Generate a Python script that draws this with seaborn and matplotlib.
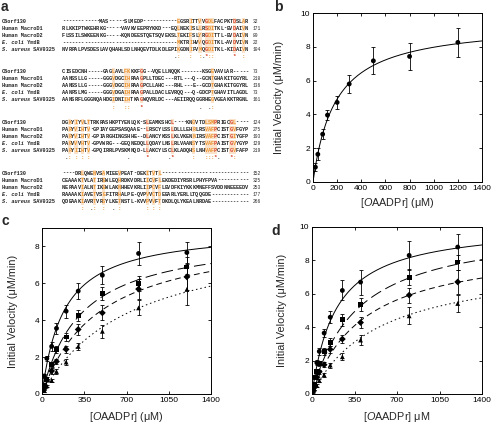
import numpy as np
import pandas as pd
import matplotlib
matplotlib.use("Agg")
import matplotlib.pyplot as plt
from matplotlib.patches import Rectangle
import seaborn as sns

# ---------------- panel a: sequence alignment ----------------
name_italic = ["", "", "", "E. coli", "S. aureus"]
name_rest = ["C6orf130", "Human MacroD1", "Human MacroD2", " YmdB", " SAV0325"]

block1 = [
    "------------MAS-----SLMEDP-----------EGSRITTVVGDLFACPKTDSLAR",
    "RLKKIPTWKEHRKG-----VAVKVEEPRYKKD---EQLNEKISLLRSDITKL-EVDAIVN",
    "FLSSILSWKEENKG-----KQNDEESTQETSQVEKSLTEKIFSLYRGDITTL-EVDAIVN",
    "-------------------------------------MKTRIHVVQGDITKL-AVDVIVN",
    "NVRPALPVSDESLAVQHAHLSDLNHQEVTDLKDLEPIKGDNIFVMQGDITKL-KIDAIVN",
]
block2 = [
    "CISEDCNH-----GAGLAVLFKKKFGG--VQELLNQQK-------KSGEVAVLAR-----",
    "AANSSLLG-----GGGVDGCIHRAAGPLLTDEC---RTL---Q--GCNTGHAKITGGYRL",
    "AANSSLLG-----GGGVDGCIHRAAGPCLLAHC---RHL---E--GCDTGHAKITGGYRL",
    "AANPSLMG-----GGGVDGAIHRAAGPALLDACLEVRQQ---Q-GDCPTGHAVITLAGDL",
    "AANSRFLGGGNQAHDGIDNIIHTKAGWQVRLDC---AEIIRQQGGRHEGVGEAKKTRGNL",
]
block3 = [
    "DGKYIYVLTTRKRASHKPTYENLQK-SLEAMKSHCL----KNGVTDLSMPRIGCGL----",
    "PARYVIHTV-GPIAYGEPSASQAAE--LRSCYLSSLDLLLEHRLRSVAFPCISTGVFGYP",
    "PARYVIHTV-GPIARGHINGSHHE--DLANCYKSSLKLVKENNIRSVAFPCISTGIYGFP",
    "PARVVVHTV-GPVWRG---GEQNEDQLLQDAYLNSLRLVAANSYTSVAFPAISTGVYGYP",
    "PARYIIHTV-GPQIRRLPVSKMNQD-LLAKCYLSCLKLADQHSLNHVAFPCISTGVFAFP",
]
block4 = [
    "----DRLQWENVSAMIEEVPEAT-DEKITVTL----------------------------",
    "CEAAAKTVLATIREWLEQHRDKVDRLIICVFLEKDEDIYRSRLPHYFPVA----------",
    "NEPAAVIALNTIKEWLAKNHHEVKRLIIPCVFLEVDFKIYKKKMNEFFSVDDNNEEEEDV",
    "RAAAAKIAVETVSEFITRHALPE-QVPVVCTDEEARLYERLLTQQGDE------------",
    "QDEAAKIAVRTVRSYLKETNSTL-KVVPVVFTDKDLQLYKEALNRDAE------------",
]
blocks = [block1, block2, block3, block4]

cons1 = {36: '.', 37: ':', 41: ':', 44: ':', 45: '.', 46: '*', 47: ':', 48: ':', 55: '*', 58: ':'}
cons2 = {16: ':', 20: ':', 21: ':', 25: '*', 44: '.', 47: '.', 48: ':'}
cons3 = {1: '.', 2: ':', 4: ':', 6: ':', 8: ':', 21: '.', 27: '*', 34: '.', 35: '*',
         42: ':', 46: ':', 47: ':', 48: ':', 49: '*', 50: '.', 54: '*', 55: ':'}
cons4 = {6: ':', 9: '.', 10: ':', 13: ':', 16: '.', 18: ':', 27: ':', 29: ':', 31: ':'}
conservation = [cons1, cons2, cons3, cons4]

end_numbers = [
    [32, 171, 89, 22, 104],
    [73, 218, 136, 73, 161],
    [124, 275, 193, 129, 219],
    [152, 325, 253, 177, 266],
]

# ---------------- panel b ----------------
b_conc = [20, 40, 80, 120, 200, 300, 500, 800, 1200]
b_rate = [0.88, 1.64, 2.83, 3.96, 4.71, 5.80, 7.17, 7.43, 8.26]
b_err = [0.25, 0.35, 0.30, 0.30, 0.40, 0.54, 0.79, 0.78, 0.86]
b_vmax, b_km = 9.45, 185.0

# ---------------- panel c ----------------
c_conc = [20, 40, 80, 120, 200, 300, 500, 800, 1200]
c_rate = [
    [0.98, 1.93, 2.58, 3.56, 4.49, 5.58, 6.44, 7.62, 7.67],
    [0.44, 0.80, 1.60, 2.40, 3.09, 4.24, 5.47, 5.98, 6.89],
    [0.30, 0.76, 1.25, 1.76, 2.42, 3.50, 4.40, 5.69, 6.35],
    [0.18, 0.44, 0.73, 1.22, 1.73, 2.58, 3.40, 4.67, 5.67],
]
c_err = [
    [0.10, 0.12, 0.25, 0.28, 0.35, 0.42, 0.50, 0.60, 0.58],
    [0.08, 0.10, 0.15, 0.20, 0.20, 0.30, 0.35, 0.40, 0.55],
    [0.06, 0.08, 0.15, 0.15, 0.20, 0.30, 0.40, 0.55, 0.70],
    [0.05, 0.07, 0.10, 0.13, 0.15, 0.20, 0.35, 0.40, 0.85],
]
c_vmax = [8.98, 8.71, 8.91, 8.88]
c_km = [181.0, 324.0, 476.0, 724.0]

# ---------------- panel d ----------------
d_conc = [10, 20, 40, 60, 100, 150, 250, 400, 800, 1200]
d_rate = [
    [0.50, 1.00, 1.87, 2.55, 3.65, 4.60, 6.20, 6.70, 8.30, 8.80],
    [0.30, 0.60, 1.33, 1.83, 2.55, 3.10, 4.45, 5.36, 7.00, 7.90],
    [0.20, 0.45, 1.00, 1.33, 1.75, 2.67, 3.29, 4.28, 5.92, 6.71],
    [0.15, 0.30, 0.50, 0.80, 1.14, 1.73, 2.23, 3.23, 4.68, 5.42],
]
d_err = [
    [0.10, 0.12, 0.15, 0.20, 0.25, 0.35, 0.60, 0.75, 0.85, 0.80],
    [0.08, 0.10, 0.12, 0.15, 0.20, 0.25, 0.35, 0.40, 0.50, 0.45],
    [0.06, 0.08, 0.10, 0.12, 0.15, 0.20, 0.25, 0.35, 0.45, 0.70],
    [0.05, 0.06, 0.08, 0.10, 0.12, 0.15, 0.20, 0.30, 0.50, 0.50],
]
d_vmax = [10.2, 10.2, 9.05, 8.04]
d_km = [200.0, 374.0, 424.0, 555.0]

series_names = ["s1", "s2", "s3", "s4"]

# ---------------- style ----------------
sns.set_style("ticks")
plt.rcParams.update({
    "font.family": ["Liberation Sans", "DejaVu Sans"],
    "mathtext.fontset": "custom",
    "mathtext.it": "Liberation Sans:italic",
    "mathtext.rm": "Liberation Sans",
    "xtick.direction": "in", "ytick.direction": "in",
    "xtick.top": True, "ytick.right": True,
    "xtick.major.size": 2.5, "ytick.major.size": 2.5,
    "xtick.major.width": 0.6, "ytick.major.width": 0.6,
    "xtick.major.pad": 2, "ytick.major.pad": 2,
    "axes.linewidth": 0.7, "axes.edgecolor": "black",
    "xtick.color": "black", "ytick.color": "black",
})

W, H = 492, 425
fig = plt.figure(figsize=(W / 100, H / 100), dpi=100)

# ---------- panel a drawn in pixel coordinates ----------
axa = fig.add_axes([0, 0, 1, 1])
axa.set_xlim(0, W)
axa.set_ylim(H, 0)
axa.axis("off")

RED, ORANGE, PALE = "#D6402A", "#E8922C", "#FBE2CA"
seq_x0, cw = 62.0, 3.1
name_x, num_x = 2.0, 253.0
block_y0 = [21.0, 71.5, 122.0, 173.0]
row_dy = 7.1
mono = "Liberation Mono"
fs = 3.75

for b, (rows, cons, ends) in enumerate(zip(blocks, conservation, end_numbers)):
    y0 = block_y0[b]
    for r, seq in enumerate(rows):
        y = y0 + r * row_dy
        if name_italic[r]:
            axa.text(name_x, y, name_italic[r], fontsize=fs, family=mono, style="italic",
                     fontweight="bold", ha="left", va="center")
            axa.text(name_x + len(name_italic[r]) * cw, y, name_rest[r], fontsize=fs,
                     family=mono, fontweight="bold", ha="left", va="center")
        else:
            axa.text(name_x, y, name_rest[r], fontsize=fs, family=mono, fontweight="bold",
                     ha="left", va="center")
        for c, ch in enumerate(seq):
            xc = seq_x0 + (c + 0.5) * cw
            sym = cons.get(c)
            col = "#222222"
            if sym in ("*", ":") and ch != "-":
                axa.add_patch(Rectangle((seq_x0 + c * cw, y - 3.3), cw, 6.6,
                                        facecolor=PALE, edgecolor="none", zorder=1))
                col = RED if sym == "*" else ORANGE
            axa.text(xc, y, ch, fontsize=fs, family=mono, fontweight="bold", color=col,
                     ha="center", va="center", zorder=2)
        axa.text(num_x, y, str(ends[r]), fontsize=fs - 0.4, family=mono, ha="left", va="center")
    yc = y0 + 5 * row_dy
    for c, sym in cons.items():
        col = RED if sym == "*" else (ORANGE if sym == ":" else "#333333")
        axa.text(seq_x0 + (c + 0.5) * cw, yc, sym, fontsize=fs + 0.5, family=mono,
                 fontweight="bold", color=col, ha="center", va="center")

# panel letters
axa.text(1, 0, "a", fontsize=10, fontweight="bold", ha="left", va="top")
axa.text(274, 0, "b", fontsize=10, fontweight="bold", ha="left", va="top")
axa.text(2, 214, "c", fontsize=10, fontweight="bold", ha="left", va="top")
axa.text(271, 224, "d", fontsize=10, fontweight="bold", ha="left", va="top")

xlab = "[$\\mathit{O}$AADPr] (μM)"
xlab_d = "[$\\mathit{O}$AADPr] μM"
ylab = "Initial Velocity (μM/min)"

dash_map = {"s1": "", "s2": (12, 5), "s3": (6, 4), "s4": (1.5, 3)}
marker_map = {"s1": "o", "s2": "s", "s3": "D", "s4": "^"}


def style_axes(ax, xt, yt, xl, ylim, ylx, xly):
    ax.set_xlim(0, 1400)
    ax.set_ylim(*ylim)
    ax.set_xticks(xt)
    ax.set_yticks(yt)
    ax.tick_params(labelsize=6.0, top=True, right=True, direction="in")
    ax.set_xlabel(xl, fontsize=7.8)
    ax.set_ylabel(ylab, fontsize=7.8)
    ax.yaxis.set_label_coords(ylx, 0.5)
    ax.xaxis.set_label_coords(0.5, xly)
    for s in ax.spines.values():
        s.set_visible(True)
        s.set_linewidth(0.7)


def draw_panel(ax, conc, rates, errs, vmaxs, kms):
    xs = np.linspace(0, 1400, 400)
    curve_rows, pt_rows = [], []
    for i, (vm, km) in enumerate(zip(vmaxs, kms)):
        name = series_names[i]
        for xv in xs:
            curve_rows.append((name, xv, vm * xv / (km + xv)))
        for xv, yv, ev in zip(conc, rates[i], errs[i]):
            pt_rows.append((name, xv, yv, ev))
    cdf = pd.DataFrame(curve_rows, columns=["series", "conc", "rate"])
    pdf = pd.DataFrame(pt_rows, columns=["series", "conc", "rate", "err"])
    names = list(cdf["series"].unique())
    sns.lineplot(data=cdf, x="conc", y="rate", style="series", dashes={k: dash_map[k] for k in names},
                 color="black", linewidth=0.7, legend=False, ax=ax, estimator=None, sort=False)
    ax.errorbar(pdf["conc"], pdf["rate"], yerr=pdf["err"], fmt="none", ecolor="black",
                elinewidth=0.6, capsize=1.5, capthick=0.6, zorder=3)
    sns.scatterplot(data=pdf, x="conc", y="rate", style="series",
                    markers={k: marker_map[k] for k in names}, color="black", s=12,
                    linewidth=0, legend=False, ax=ax, zorder=4)


# panel b
axb = fig.add_axes([313 / W, 1 - 182 / H, 169 / W, 169 / H])
draw_panel(axb, b_conc, [b_rate], [b_err], [b_vmax], [b_km])
style_axes(axb, np.arange(0, 1401, 200), np.arange(0, 11, 2), xlab, (0, 10), -0.17, -0.08)

# panel c
axc = fig.add_axes([42 / W, 1 - 394 / H, 169 / W, 166 / H])
draw_panel(axc, c_conc, c_rate, c_err, c_vmax, c_km)
style_axes(axc, [0, 350, 700, 1050, 1400], [0, 2, 4, 6, 8], xlab, (0, 9), -0.142, -0.095)

# panel d
axd = fig.add_axes([312 / W, 1 - 394 / H, 170 / W, 167 / H])
draw_panel(axd, d_conc, d_rate, d_err, d_vmax, d_km)
style_axes(axd, [0, 350, 700, 1050, 1400], np.arange(0, 11, 2), xlab_d, (0, 10), -0.147, -0.095)

fig.savefig("out.png", dpi=100)
